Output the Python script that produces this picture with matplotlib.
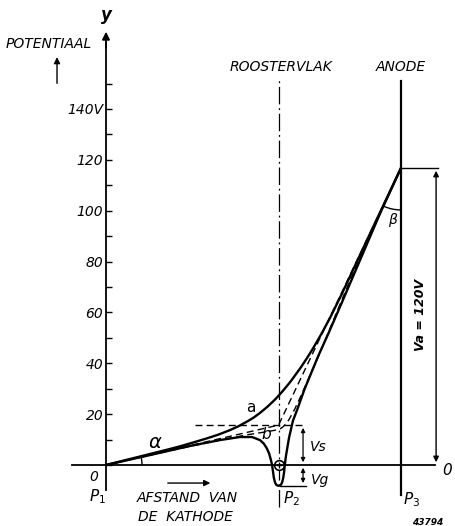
import numpy as np
import matplotlib
matplotlib.use("Agg")
from matplotlib import pyplot as plt
from matplotlib.patches import Arc

# afstand van de kathode: P1 = 0, P3 (anode) = 100 ; potentiaal in V
x_p1, x_p2, x_p3 = 0, 58.5, 100
v_s = 15.7          # Vs
v_g = -8.2          # Vg (onder nul)
v_a = 116.8         # Va (getekend als 120 V)

# bovenste kromme a
a_x = [0, 10, 20, 25, 30, 34, 38, 42, 45, 48, 50, 52, 54, 55, 56, 57, 58, 59, 60, 61,
       62, 63, 64, 66, 68, 70, 73, 76, 80, 85, 90, 95, 100]
a_v = [0, 2.9, 5.8, 7.3, 9.0, 10.4, 11.9, 13.7, 15.3, 17.2, 18.6, 20.3, 22.2, 23.2,
       24.3, 25.4, 26.6, 27.9, 29.2, 30.6, 32.0, 33.5, 35.1, 38.3, 41.8, 45.5, 51.5,
       58.0, 67.4, 79.8, 92.2, 104.5, 116.8]

# gestippelde kromme b
b_x = [0, 10, 20, 30, 40, 48, 54, 57, 59, 60, 61, 62, 64, 66, 68, 71, 74, 78, 82, 86, 90, 95, 100]
b_v = [0, 2.6, 5.2, 7.7, 10.1, 11.9, 13.0, 13.6, 14.2, 15.0, 16.2, 17.8, 22.0, 27.0, 32.2,
       40.0, 48.2, 59.5, 70.6, 81.0, 91.3, 104.1, 116.8]

# onderste kromme met de put bij het rooster
c_x = [0, 14.9, 28.5, 38.6, 45.4, 49.5, 52.2, 53.5, 54.5, 55.3, 55.9, 56.3, 56.6, 56.9,
       57.3, 57.8, 58.5, 59.2, 59.7, 60.1, 60.4, 60.6, 61.0, 61.5, 62.1, 63.4, 64.9,
       67.2, 69.5, 72.0, 75.5, 80.0, 86.5, 93.0, 100]
c_v = [0, 3.9, 7.5, 9.8, 11.0, 11.0, 9.8, 8.4, 6.6, 4.5, 2.0, 0, -2.5, -5.0,
       -6.9, -7.9, v_g, -7.9, -6.9, -5.0, -2.5, 0, 3.5, 7.0, 11.0, 17.5, 22.0,
       29.5, 36.0, 43.0, 52.0, 64.0, 81.6, 99.2, 116.8]

# rechte stippellijnen via het knikpunt (P2, Vs)
s_x = [x_p1, x_p2, x_p3]
s_v = [0, v_s, v_a]

y_major = [0, 20, 40, 60, 80, 100, 120, 140]
y_labels = ["", "20", "40", "60", "80", "100", "120", "140V"]
y_minor = [10, 30, 50, 70, 90, 110, 130, 150]

fig = plt.figure(figsize=(4.55, 5.26), dpi=100)
ax = fig.add_axes([0, 0, 1, 1])
ax.set_xlim(-35.93, 118.31)
ax.set_ylim(-23.99, 182.86)

it = dict(fontstyle="italic", color="black")

# assen
for s in ["top", "right"]:
    ax.spines[s].set_visible(False)
ax.spines["left"].set_position(("data", 0))
ax.spines["left"].set_bounds(-10, 166)
ax.spines["bottom"].set_position(("data", 0))
ax.spines["bottom"].set_bounds(-11.5, 111.5)
ax.spines["left"].set_linewidth(1.3)
ax.spines["bottom"].set_linewidth(1.3)
ax.set_xticks([])
ax.set_yticks(y_major)
ax.set_yticklabels(y_labels)
ax.set_yticks(y_minor, minor=True)
ax.tick_params(axis="y", which="both", direction="in", length=4, width=1, pad=2, labelsize=10)
for lbl in ax.get_yticklabels():
    lbl.set_fontstyle("italic")
ax.annotate("", xy=(0, 171.5), xytext=(0, 163),
            arrowprops=dict(arrowstyle="-|>", color="black", lw=1.3, mutation_scale=11))
ax.text(0.3, 177, "y", fontsize=12, fontweight="bold", ha="center", va="center", **it)
ax.text(-2.5, -4.7, "0", fontsize=10, ha="right", va="center", **it)
ax.text(115.6, -2, "0", fontsize=11, ha="center", va="center", **it)

ax.text(-34, 165.5, "POTENTIAAL", fontsize=10, ha="left", va="center", **it)
ax.annotate("", xy=(-16.6, 161.5), xytext=(-16.6, 149),
            arrowprops=dict(arrowstyle="-|>", color="black", lw=1, mutation_scale=9))

# rooster en anode
ax.plot([x_p2, x_p2], [-16.5, 152], color="black", lw=0.9, ls=(0, (14, 3, 1.5, 3)))
ax.plot([x_p3, x_p3], [-11.8, 151], color="black", lw=1.6)
ax.text(59.5, 156.5, "ROOSTERVLAK", fontsize=10, ha="center", va="center", **it)
ax.text(x_p3, 156.5, "ANODE", fontsize=10, ha="center", va="center", **it)

# krommen
ax.plot(s_x, s_v, color="black", lw=1.0, ls=(0, (5, 3)))
ax.plot(b_x, b_v, color="black", lw=1.0, ls=(0, (5, 3)))
ax.plot(a_x, a_v, color="black", lw=1.7, solid_capstyle="round", solid_joinstyle="round")
ax.plot(c_x, c_v, color="black", lw=1.7, solid_capstyle="round", solid_joinstyle="round")
ax.plot([x_p2], [0], marker="o", ms=7, mfc="white", mec="black", mew=1.2)
ax.plot([x_p2], [0], marker="+", ms=5, color="black", mew=1)

ax.text(49, 22.5, "a", fontsize=11, ha="center", va="center", color="black")
ax.text(54.5, 11.8, "b", fontsize=11, ha="center", va="center", **it)
ax.text(16.5, 9, "α", fontsize=14, ha="center", va="center", **it)
ax.add_patch(Arc((0, 0), 24.4, 28.3, theta1=0, theta2=15.3, color="black", lw=1))
ax.add_patch(Arc((x_p3, v_a), 28.5, 33.0, theta1=248, theta2=270, color="black", lw=1))
ax.text(97, 96.5, "β", fontsize=10, ha="center", va="center", **it)

# Vs, Vg, Va maatlijnen
ax.plot([30.2, 67.5], [v_s, v_s], color="black", lw=1.0, ls=(0, (5, 3)))
ax.plot([59, 67.8], [v_g, v_g], color="black", lw=1.0)
ax.annotate("", xy=(66.8, v_s), xytext=(66.8, 0),
            arrowprops=dict(arrowstyle="<|-|>", color="black", lw=0.9, mutation_scale=6))
ax.annotate("", xy=(66.8, v_g), xytext=(66.8, 0),
            arrowprops=dict(arrowstyle="<|-|>", color="black", lw=0.9, mutation_scale=6))
ax.text(69, 7, "Vs", fontsize=10, ha="left", va="center", **it)
ax.text(69.5, -5.8, "Vg", fontsize=10, ha="left", va="center", **it)

ax.plot([x_p3, 112.6], [v_a, v_a], color="black", lw=1.0)
ax.annotate("", xy=(111.9, v_a), xytext=(111.9, 0),
            arrowprops=dict(arrowstyle="<|-|>", color="black", lw=1.0, mutation_scale=8))
ax.text(106.5, 59, "Va = 120V", fontsize=9, fontweight="bold", rotation=90,
        ha="center", va="center", **it)

# onderschriften
ax.text(-3, -12.6, "$P_1$", fontsize=11, ha="center", va="center", **it)
ax.text(62.8, -13.2, "$P_2$", fontsize=11, ha="center", va="center", **it)
ax.text(103.7, -13.8, "$P_3$", fontsize=11, ha="center", va="center", **it)
ax.annotate("", xy=(36.3, -7.1), xytext=(20, -7.1),
            arrowprops=dict(arrowstyle="-|>", color="black", lw=1, mutation_scale=9))
ax.text(10.5, -13, "AFSTAND  VAN", fontsize=10, ha="left", va="center", **it)
ax.text(10.8, -20.5, "DE  KATHODE", fontsize=10, ha="left", va="center", **it)
ax.text(109, -22.8, "43794", fontsize=6.5, fontweight="bold", ha="center", va="center", **it)

fig.savefig("out.png", dpi=100, facecolor="white")
